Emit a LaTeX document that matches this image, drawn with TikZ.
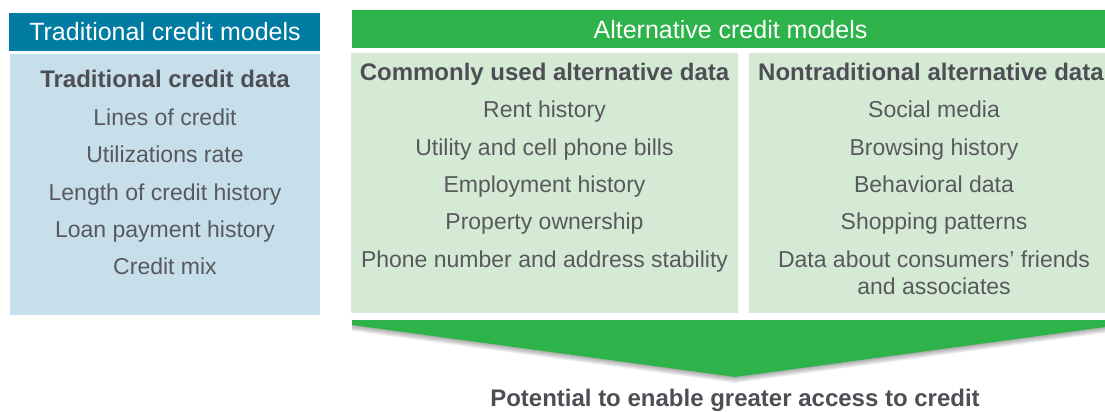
\documentclass[tikz,border=0pt]{standalone}
\usepackage{fontspec}
\setmainfont{Liberation Sans}
\definecolor{teal}{HTML}{007BA2}
\definecolor{lblue}{HTML}{C6DFEB}
\definecolor{dgreen}{HTML}{2DB34A}
\definecolor{lgreen}{HTML}{D5EAD5}
\definecolor{txt}{HTML}{58595D}
\definecolor{btxt}{HTML}{4E4F55}
\begin{document}
\begin{tikzpicture}[x=1pt,y=-1pt,
  box/.style={inner sep=0pt, outer sep=0pt, anchor=north west},
  headtext/.style={inner sep=0pt, anchor=base, text=white, font=\fontsize{25}{30}\selectfont},
  subhead/.style={inner sep=0pt, anchor=base, text=btxt, font=\bfseries\fontsize{24}{28}\selectfont},
  item/.style={inner sep=0pt, anchor=base, text=txt, font=\fontsize{23}{27}\selectfont},
  shadowlayer/.style={fill=black, opacity=0.06}]
\useasboundingbox (0,0) rectangle (1105,412);
\begin{scope}
\clip (0,0) rectangle (1105,412);
% boxes
\node[box, fill=teal, minimum width=311pt, minimum height=38pt] (lhead) at (9,13) {};
\node[box, fill=lblue, minimum width=310pt, minimum height=261pt] (lbody) at (10,54) {};
\node[box, fill=dgreen, minimum width=757pt, minimum height=38pt] (rhead) at (352,10) {};
\node[box, fill=lgreen, minimum width=387pt, minimum height=260pt] (mbody) at (351,53) {};
\node[box, fill=lgreen, minimum width=370pt, minimum height=260pt] (rbody) at (749,53) {};
% arrow shadow (soft, layered)
\foreach \d in {1,2,3,4,5,6}{
  \path[shadowlayer] (352,320+\d) -- (1120,320+\d) -- (1120,325+\d) -- (735,377+\d) -- (352,325+\d) -- cycle;
}
% arrow
\coordinate (al) at (352,320);
\coordinate (ar) at (1120,320);
\coordinate (tip) at (735,377);
\path[fill=dgreen] (al) -- (ar) -- (1120,325) -- (tip) -- (352,325) -- cycle;
% header texts
\node[headtext] (lheadt) at (165,41) {Traditional credit models};
\node[headtext] (rheadt) at (730.5,38) {Alternative credit models};
% subheads
\node[subhead] (lsub) at (165,88) {Traditional credit data};
\node[subhead] (msub) at (544.5,81) {Commonly used alternative data};
\node[subhead, anchor=base west] (rsub) at (758,81) {Nontraditional alternative data};
% left items
\node[item] (l1) at (165,125) {Lines of credit};
\node[item] (l2) at (165,162) {Utilizations rate};
\node[item] (l3) at (165,200) {Length of credit history};
\node[item] (l4) at (165,237) {Loan payment history};
\node[item] (l5) at (165,274) {Credit mix};
% middle items
\node[item] (m1) at (544.5,117) {Rent history};
\node[item] (m2) at (544.5,155) {Utility and cell phone bills};
\node[item] (m3) at (544.5,192) {Employment history};
\node[item] (m4) at (544.5,229) {Property ownership};
\node[item] (m5) at (544.5,267) {Phone number and address stability};
% right items
\node[item] (r1) at (934,117) {Social media};
\node[item] (r2) at (934,155) {Browsing history};
\node[item] (r3) at (934,192) {Behavioral data};
\node[item] (r4) at (934,229) {Shopping patterns};
\node[item] (r5) at (934,267) {Data about consumers’ friends};
\node[item] (r6) at (934,294) {and associates};
% bottom
\node[subhead] (bottom) at (735,406) {Potential to enable greater access to credit};
\end{scope}
\end{tikzpicture}
\end{document}
